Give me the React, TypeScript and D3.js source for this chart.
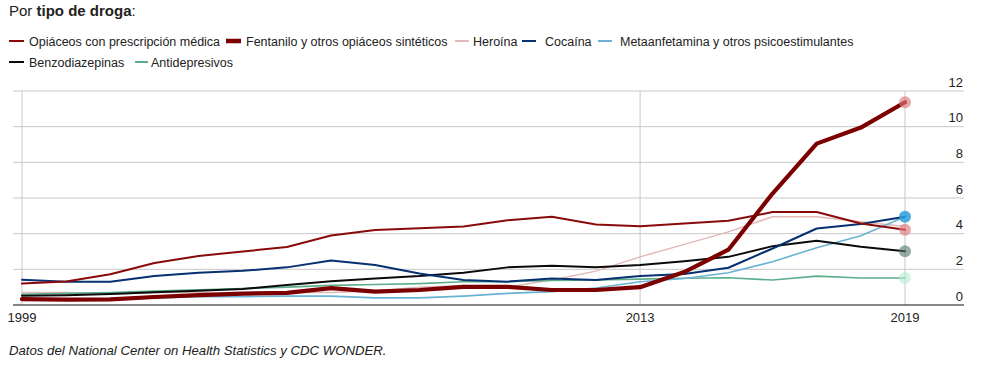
import React from "react";
import * as d3 from "d3";

const years = d3.range(1999, 2020);
const prescription = [1.2, 1.32, 1.72, 2.35, 2.75, 3.0, 3.25, 3.9, 4.2, 4.3, 4.4, 4.75, 4.95, 4.52, 4.42, 4.57, 4.72, 5.21, 5.21, 4.57, 4.22];
const fentanyl = [0.33, 0.3, 0.32, 0.45, 0.55, 0.64, 0.68, 0.95, 0.75, 0.84, 1.02, 1.02, 0.84, 0.84, 1.0, 1.85, 3.1, 6.25, 9.05, 9.95, 11.37];
const heroin = [0.7, 0.7, 0.6, 0.7, 0.7, 0.6, 0.7, 0.7, 0.8, 1.0, 1.1, 1.0, 1.4, 1.9, 2.7, 3.4, 4.1, 4.95, 4.95, 4.67, 4.4];
const cocaine = [1.42, 1.31, 1.31, 1.62, 1.81, 1.92, 2.11, 2.5, 2.24, 1.77, 1.4, 1.31, 1.49, 1.4, 1.62, 1.74, 2.09, 3.17, 4.29, 4.54, 4.95];
const meth = [0.3, 0.3, 0.3, 0.4, 0.47, 0.47, 0.5, 0.5, 0.4, 0.4, 0.5, 0.65, 0.75, 0.95, 1.3, 1.49, 1.81, 2.43, 3.21, 3.88, 4.95];
const benzo = [0.52, 0.55, 0.62, 0.71, 0.8, 0.9, 1.12, 1.33, 1.49, 1.62, 1.81, 2.11, 2.2, 2.11, 2.24, 2.46, 2.7, 3.3, 3.6, 3.27, 3.02];
const antidep = [0.6, 0.65, 0.7, 0.78, 0.85, 0.92, 1.0, 1.1, 1.15, 1.2, 1.3, 1.31, 1.38, 1.4, 1.45, 1.5, 1.53, 1.4, 1.62, 1.51, 1.51];

const yTicks = [0, 2, 4, 6, 8, 10, 12];
const xTickYears = [1999, 2013, 2019];

type S = { name: string; values: number[]; color: string; width: number; dot?: string; dotOp?: number };

const series: S[] = [
  { name: "Heroína", values: heroin, color: "#e3b8b8", width: 1.5 },
  { name: "Antidepresivos", values: antidep, color: "#5cae8b", width: 1.6, dot: "#b5ecd0", dotOp: 0.6 },
  { name: "Metaanfetamina y otros psicoestimulantes", values: meth, color: "#6ab2d3", width: 1.6 },
  { name: "Benzodiazepinas", values: benzo, color: "#0b0b0b", width: 2, dot: "#4f7665", dotOp: 0.6 },
  { name: "Cocaína", values: cocaine, color: "#06306f", width: 2, dot: "#2b9ed9", dotOp: 0.85 },
  { name: "Opiáceos con prescripción médica", values: prescription, color: "#8a0a0a", width: 2, dot: "#e07a7a", dotOp: 0.65 },
  { name: "Fentanilo y otros opiáceos sintéticos", values: fentanyl, color: "#7c0000", width: 4.2, dot: "#e07a7a", dotOp: 0.65 },
];

const legendItems = [
  { name: "Opiáceos con prescripción médica", color: "#8a0a0a", width: 2, sx: 9, sw: 15, tx: 29, row: 0 },
  { name: "Fentanilo y otros opiáceos sintéticos", color: "#7c0000", width: 4.5, sx: 226, sw: 15, tx: 246, row: 0 },
  { name: "Heroína", color: "#e3b8b8", width: 2, sx: 455, sw: 14, tx: 473, row: 0 },
  { name: "Cocaína", color: "#06306f", width: 2, sx: 522, sw: 14, tx: 545, row: 0 },
  { name: "Metaanfetamina y otros psicoestimulantes", color: "#6ab2d3", width: 2, sx: 598, sw: 14, tx: 620, row: 0 },
  { name: "Benzodiazepinas", color: "#0b0b0b", width: 2, sx: 9, sw: 15, tx: 29, row: 1 },
  { name: "Antidepresivos", color: "#5cae8b", width: 2, sx: 135, sw: 13, tx: 151, row: 1 },
];

const FONT = "'Liberation Sans', Arial, sans-serif";

export default function App() {
  const W = 991, H = 368;
  const x = d3.scaleLinear().domain([1999, 2019]).range([22, 905]);
  const y = d3.scaleLinear().domain([0, 12]).range([305, 91]);
  const line = d3.line<number>().x((_, i) => x(years[i])).y((v) => y(v));
  const rowY = [45.5, 66.5];
  return (
    <svg width={W} height={H} style={{ position: "absolute", left: 0, top: 0, fontFamily: FONT }}>
      <rect width={W} height={H} fill="#fff" />
      <text x={9} y={15.5} fontSize={15} fill="#222">
        Por <tspan fontWeight="bold">tipo de droga</tspan>:
      </text>
      {legendItems.map((l) => (
        <g key={l.name}>
          <line x1={l.sx} x2={l.sx + l.sw} y1={rowY[l.row] - 4.5} y2={rowY[l.row] - 4.5} stroke={l.color} strokeWidth={l.width} />
          <text x={l.tx} y={rowY[l.row]} fontSize={12.5} fill="#222">{l.name}</text>
        </g>
      ))}
      {yTicks.filter((t) => t > 0).map((t) => (
        <line key={t} x1={13} x2={964} y1={y(t)} y2={y(t)} stroke="#c8c8c8" strokeWidth={1} />
      ))}
      {xTickYears.map((yr) => (
        <line key={yr} x1={x(yr)} x2={x(yr)} y1={y(12)} y2={y(0)} stroke="#c8c8c8" strokeWidth={1} />
      ))}
      <line x1={13} x2={964} y1={y(0)} y2={y(0)} stroke="#111" strokeWidth={1.2} />
      {yTicks.map((t) => (
        <text key={t} x={963} y={y(t) - 4.5} fontSize={13} textAnchor="end" fill="#222">{t}</text>
      ))}
      {xTickYears.map((yr) => (
        <text key={yr} x={x(yr)} y={322} fontSize={13} textAnchor="middle" fill="#222">{yr}</text>
      ))}
      {series.map((s) => (
        <path key={s.name} d={line(s.values) || ""} fill="none" stroke={s.color} strokeWidth={s.width} strokeLinejoin="round" strokeLinecap="round" />
      ))}
      {series.filter((s) => s.dot).map((s) => (
        <circle key={s.name} cx={x(2019)} cy={y(s.values[s.values.length - 1])} r={6} fill={s.dot} fillOpacity={s.dotOp} />
      ))}
      <text x={9} y={355} fontSize={13.2} fontStyle="italic" fill="#222">
        Datos del National Center on Health Statistics y CDC WONDER.
      </text>
    </svg>
  );
}
